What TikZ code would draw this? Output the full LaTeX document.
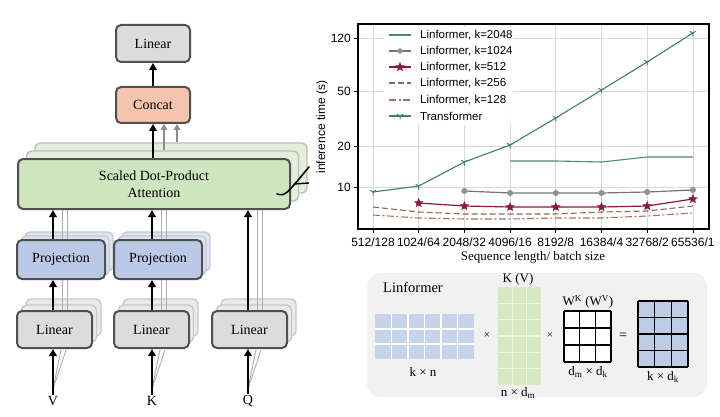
\documentclass[tikz,border=0pt]{standalone}
\usepackage{fontspec}
\setmainfont{Liberation Serif}
\newfontfamily\plotfont{Liberation Sans}
\usetikzlibrary{arrows.meta}
\definecolor{boxborder}{HTML}{505050}
\definecolor{linfill}{HTML}{DCDCDC}
\definecolor{concatfill}{HTML}{F5C4AE}
\definecolor{attfill}{HTML}{CFE5C0}
\definecolor{projfill}{HTML}{B9C9E6}
\definecolor{ghostlin}{HTML}{EAEAEA}
\definecolor{ghostlinb}{HTML}{C8C8C8}
\definecolor{ghostproj}{HTML}{DEE5F1}
\definecolor{ghostprojb}{HTML}{C2CAD8}
\definecolor{ghostatt}{HTML}{E3EEDC}
\definecolor{ghostattb}{HTML}{B8C2B4}
\definecolor{trc}{HTML}{3F7F6E}
\definecolor{kaa}{HTML}{4E8A7C}
\definecolor{kab}{HTML}{757575}
\definecolor{kac}{HTML}{8A1A3C}
\definecolor{kad}{HTML}{8A6A58}
\definecolor{kae}{HTML}{A87068}
\definecolor{gridc}{HTML}{D8D8D8}
\definecolor{panel}{HTML}{F1F1F1}
\definecolor{mone}{HTML}{C6D3E8}
\definecolor{mtwo}{HTML}{D5E9C3}
\definecolor{mtwol}{HTML}{EEF8DC}
\definecolor{mfour}{HTML}{BCCBE6}
\pgfdeclareplotmark{fstar}{%
  \pgfpathmoveto{\pgfpointpolar{90}{\pgfplotmarksize}}%
  \pgfpathlineto{\pgfpointpolar{126}{0.45\pgfplotmarksize}}%
  \pgfpathlineto{\pgfpointpolar{162}{\pgfplotmarksize}}%
  \pgfpathlineto{\pgfpointpolar{198}{0.45\pgfplotmarksize}}%
  \pgfpathlineto{\pgfpointpolar{234}{\pgfplotmarksize}}%
  \pgfpathlineto{\pgfpointpolar{270}{0.45\pgfplotmarksize}}%
  \pgfpathlineto{\pgfpointpolar{306}{\pgfplotmarksize}}%
  \pgfpathlineto{\pgfpointpolar{342}{0.45\pgfplotmarksize}}%
  \pgfpathlineto{\pgfpointpolar{18}{\pgfplotmarksize}}%
  \pgfpathlineto{\pgfpointpolar{54}{0.45\pgfplotmarksize}}%
  \pgfpathclose\pgfusepathqfillstroke}
\pgfdeclareplotmark{tridown}{%
  \pgfpathmoveto{\pgfpointorigin}\pgfpathlineto{\pgfpointpolar{-90}{\pgfplotmarksize}}%
  \pgfpathmoveto{\pgfpointorigin}\pgfpathlineto{\pgfpointpolar{30}{\pgfplotmarksize}}%
  \pgfpathmoveto{\pgfpointorigin}\pgfpathlineto{\pgfpointpolar{150}{\pgfplotmarksize}}%
  \pgfusepathqstroke}
\begin{document}
\begin{tikzpicture}[x=1pt,y=-1pt,
  box/.style={draw=boxborder, line width=2pt, rounded corners=5pt, inner sep=0pt,
    font=\fontsize{14}{16}\selectfont, align=center},
  ghost/.style={line width=1.4pt, rounded corners=5pt, inner sep=0pt},
  blk/.style={line width=2.4pt, -{Triangle[length=7pt,width=7.5pt]}},
  gry/.style={draw=black!32, line width=0.9pt},
  gryarrow/.style={draw=black!45, line width=2pt, -{Triangle[length=6pt,width=6.5pt]}},
  tick/.style={font=\plotfont\fontsize{12}{14}\selectfont},
  leg/.style={font=\plotfont\fontsize{11.5}{13}\selectfont, anchor=west, inner sep=0pt},
  lab/.style={font=\fontsize{13}{15}\selectfont, inner sep=0pt},
  op/.style={font=\fontsize{11}{13}\selectfont, inner sep=0pt},
]
\useasboundingbox (0,0) rectangle (720,417);
\fill[white] (0,0) rectangle (720,417);

% ---------- left: multi-head attention ----------
% ghost layers
\node[ghost, draw=ghostattb, fill=ghostatt, minimum width=272pt, minimum height=50pt] (attC) at (171,168) {};
\node[ghost, draw=ghostattb, fill=ghostatt, minimum width=272pt, minimum height=50pt] (attB) at (162.5,176) {};

\foreach \n/\x in {p1/61, p2/158}{
  \node[ghost, draw=ghostprojb, fill=ghostproj, minimum width=88pt, minimum height=39pt] (\n C) at (\x+8,251.5) {};
  \node[ghost, draw=ghostprojb, fill=ghostproj, minimum width=88pt, minimum height=39pt] (\n B) at (\x+4,255.5) {};
}
\foreach \n/\x in {l1/54.5, l2/151.5, l3/249.5}{
  \node[ghost, draw=ghostlinb, fill=ghostlin, minimum width=75pt, minimum height=37pt] (\n C) at (\x+9,317.5) {};
  \node[ghost, draw=ghostlinb, fill=ghostlin, minimum width=75pt, minimum height=37pt] (\n B) at (\x+4.5,323.5) {};
}

% inputs
\node[font=\fontsize{14}{16}\selectfont, inner sep=1pt] (V) at (53,401) {V};
\node[font=\fontsize{14}{16}\selectfont, inner sep=1pt] (K) at (152,401) {K};
\node[font=\fontsize{14}{16}\selectfont, inner sep=1pt] (Q) at (248,401) {Q};

% gray companion lines (behind boxes)
\foreach \xx in {53,152,248}{
  \draw[gry] (\xx,389) -- (\xx+8,350);
  \draw[gry] (\xx,389) -- (\xx+13,350);
}
\foreach \xx in {53,152}{
  \draw[gry] (\xx+9,312) -- (\xx+9,278);
  \draw[gry] (\xx+14,312) -- (\xx+14,278);
  \draw[gry] (\xx+9,241) -- (\xx+9,205);
  \draw[gry] (\xx+14,241) -- (\xx+14,205);
}
\draw[gry] (257,312) -- (257,205);
\draw[gry] (262,312) -- (262,205);

% main boxes
\node[box, fill=linfill, minimum width=74pt, minimum height=37pt] (lintop) at (153,43.5) {Linear};
\node[box, fill=concatfill, minimum width=74pt, minimum height=36pt] (concat) at (153,105) {Concat};
\node[box, fill=attfill, minimum width=272pt, minimum height=50pt] (att) at (154,184)
  {Scaled Dot-Product\\[1pt]Attention};
\node[box, fill=projfill, minimum width=88pt, minimum height=39pt] (p1) at (61,259.5) {Projection};
\node[box, fill=projfill, minimum width=88pt, minimum height=39pt] (p2) at (158,259.5) {Projection};
\node[box, fill=linfill, minimum width=75pt, minimum height=37pt] (l1) at (54.5,329.5) {Linear};
\node[box, fill=linfill, minimum width=75pt, minimum height=37pt] (l2) at (151.5,329.5) {Linear};
\node[box, fill=linfill, minimum width=75pt, minimum height=37pt] (l3) at (249.5,329.5) {Linear};

% black arrows
\draw[blk] (V.north) -- (l1.south -| V.north);
\draw[blk] (K.north) -- (l2.south -| K.north);
\draw[blk] (Q.north) -- (l3.south -| Q.north);
\draw[blk] (l1.north -| V.north) -- (p1.south -| V.north);
\draw[blk] (l2.north -| K.north) -- (p2.south -| K.north);
\draw[blk] (p1.north -| V.north) -- (att.south -| V.north);
\draw[blk] (p2.north -| K.north) -- (att.south -| K.north);
\draw[blk] (l3.north -| Q.north) -- (att.south -| Q.north);
\draw[blk] (att.north -| concat.south) -- (concat.south);
\draw[blk] (concat.north) -- (lintop.south);
\draw[gryarrow] ([xshift=11pt]attB.north -| concat.south) -- ([xshift=11pt]concat.south);
\draw[gryarrow] ([xshift=24pt]attC.north -| concat.south) -- ([xshift=24pt]concat.south);

% head-count slash
\coordinate (sa) at (277,194);
\coordinate (sb) at (309,167);
\draw[line width=1.6pt, line cap=round] (sa) .. controls (285,196) .. (sb);
\draw[line width=1.4pt] (294,184) -- (309,183);

% ---------- right: plot ----------
\foreach \yy in {38,91,146,187}{\draw[gridc, line width=0.8pt] (358,\yy) -- (709,\yy);}
\foreach \i in {0,...,7}{\draw[gridc, line width=0.8pt] (373+\i*45.7,24) -- (373+\i*45.7,229);}

% legend background
\fill[white, opacity=0.9] (384,27) rectangle (513,125);

% data
\draw[kae, line width=1.1pt, dash pattern=on 7pt off 2.5pt on 2pt off 2.5pt]
  plot coordinates {(373,215) (418.7,218) (464.4,219) (510.1,219) (555.8,218) (601.5,218) (647.2,216) (692.9,213)};
\draw[kad, line width=1.1pt, dash pattern=on 6pt off 3pt]
  plot coordinates {(373,207) (418.7,212) (464.4,214) (510.1,214) (555.8,214) (601.5,212) (647.2,211) (692.9,206)};
\draw[kac, line width=1.2pt, mark=fstar, mark size=4.5pt, mark options={fill=kac, draw=kac, line width=0.3pt}]
  plot coordinates {(418.7,203) (464.4,206) (510.1,207) (555.8,207) (601.5,207) (647.2,206) (692.9,199)};
\draw[kab, line width=1.2pt, mark=*, mark size=2.4pt, mark options={fill=kab!80, draw=kab!80}]
  plot coordinates {(464.4,191) (510.1,193) (555.8,193) (601.5,193) (647.2,192) (692.9,190)};
\draw[kaa, line width=1.1pt]
  plot coordinates {(510.1,161) (555.8,161) (601.5,162) (647.2,157) (692.9,157)};
\draw[trc, line width=1.1pt, mark=tridown, mark size=3.5pt, mark options={line width=1pt}]
  plot coordinates {(373,192) (418.7,186) (464.4,162) (510.1,145) (555.8,118) (601.5,90) (647.2,62) (692.9,33)};

% frame
\draw[black, line width=1.2pt] (358,24) rectangle (709,229);

% legend
\draw[kaa, line width=1.1pt] (389,35) -- (411,35);
\node[leg] (lg1) at (420,35) {Linformer, k=2048};
\draw[kab, line width=1.2pt] (389,51) -- (411,51);
\draw[kab, mark=*, mark size=2.4pt, mark options={fill=kab!80, draw=kab!80}] plot coordinates {(400,51)};
\node[leg] (lg2) at (420,51) {Linformer, k=1024};
\draw[kac, line width=1.2pt] (389,67) -- (411,67);
\draw[kac, mark=fstar, mark size=4.5pt, mark options={fill=kac, draw=kac, line width=0.3pt}] plot coordinates {(400,67)};
\node[leg] (lg3) at (420,67) {Linformer, k=512};
\draw[kad, line width=1.1pt, dash pattern=on 6pt off 3pt] (389,83) -- (411,83);
\node[leg] (lg4) at (420,83) {Linformer, k=256};
\draw[kae, line width=1.1pt, dash pattern=on 7pt off 2.5pt on 2pt off 2.5pt] (389,100) -- (411,100);
\node[leg] (lg5) at (420,100) {Linformer, k=128};
\draw[trc, line width=1.1pt] (389,116) -- (411,116);
\draw[trc, mark=tridown, mark size=3.5pt, mark options={line width=1pt}] plot coordinates {(400,116)};
\node[leg] (lg6) at (420,116) {Transformer};

% tick labels
\foreach \lbl [count=\i from 0] in {512/128,1024/64,2048/32,4096/16,8192/8,16384/4,32768/2,65536/1}{
  \draw[black, line width=0.8pt] (373+\i*45.7,229) -- (373+\i*45.7,233);
  \node[tick, inner sep=0pt] (xt\i) at (373+\i*45.7,242) {\lbl};
}
\foreach \v/\yy in {120/38,50/91,20/146,10/187}{
  \draw[black, line width=0.8pt] (354,\yy) -- (358,\yy);
  \node[tick, anchor=east, inner sep=0pt] (yt\v) at (351,\yy) {\v};
}
\node[tick, rotate=90, inner sep=0pt] (ylab) at (322,127) {inference time (s)};
\node[font=\fontsize{13}{15}\selectfont, inner sep=0pt] (xlab) at (533,257) {Sequence length/ batch size};

% ---------- right bottom: Linformer panel ----------
\fill[panel, rounded corners=14pt] (367,273) rectangle (707,397);
\node[font=\fontsize{14.5}{16}\selectfont, inner sep=0pt] (ltitle) at (413,287) {Linformer};

% matrix 1 (k x n)
\fill[mone] (375,314) rectangle (474,359);
\foreach \i in {1,...,5}{\draw[white, line width=1.5pt] (375+\i*16.5,314) -- (375+\i*16.5,359);}
\foreach \j in {1,2}{\draw[white, line width=1.5pt] (375,314+\j*15) -- (474,314+\j*15);}
\node[lab] (m1lab) at (423,372) {k × n};
\node[op] (x1) at (487,336) {×};

% matrix 2 (n x d_m)
\fill[mtwo] (498,287) rectangle (541,385);
\foreach \i in {1,2}{\draw[mtwol, line width=1.5pt] (498+\i*14.33,287) -- (498+\i*14.33,385);}
\foreach \j in {1,...,5}{\draw[mtwol, line width=1.5pt] (498,287+\j*16.33) -- (541,287+\j*16.33);}
\node[lab] (m2top) at (518,279) {K (V)};
\node[lab] (m2lab) at (518,393) {n × d\textsubscript{m}};
\node[op] (x2) at (550,336) {×};

% matrix 3 (d_m x d_k)
\fill[white] (564,311) rectangle (611,362);
\foreach \i in {0,...,3}{\draw[black, line width=1.5pt] (564+\i*15.667,311) -- (564+\i*15.667,362);}
\foreach \j in {0,...,3}{\draw[black, line width=1.5pt] (564,311+\j*17) -- (611,311+\j*17);}
\node[lab] (m3top) at (588,302) {W\textsuperscript{K} (W\textsuperscript{V})};
\node[lab] (m3lab) at (588,372) {d\textsubscript{m} × d\textsubscript{k}};
\node[font=\fontsize{14}{15}\selectfont, inner sep=0pt] (eq) at (623,336) {=};

% matrix 4 (k x d_k)
\fill[mfour] (638,301) rectangle (688,367);
\foreach \i in {0,...,3}{\draw[black, line width=1.5pt] (638+\i*16.667,301) -- (638+\i*16.667,367);}
\foreach \j in {0,...,4}{\draw[black, line width=1.5pt] (638,301+\j*16.5) -- (688,301+\j*16.5);}
\node[lab] (m4lab) at (663,377) {k × d\textsubscript{k}};
\end{tikzpicture}
\end{document}
